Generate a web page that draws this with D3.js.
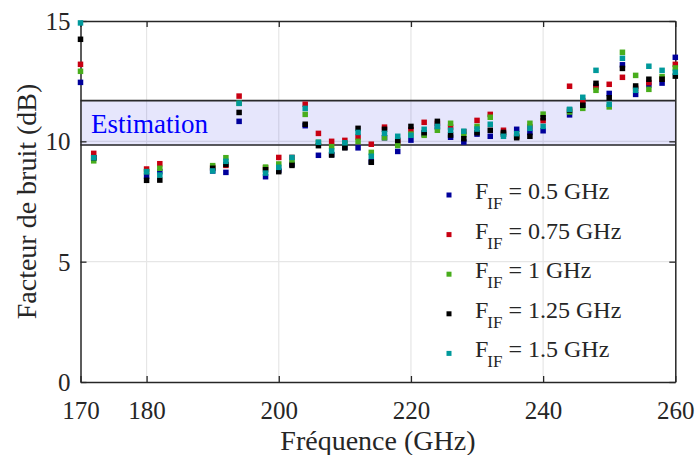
<!DOCTYPE html>
<html><head><meta charset="utf-8">
<script src="https://cdn.jsdelivr.net/npm/d3@7"></script>
<style>body{margin:0;background:#fff;} svg{display:block;}</style>
</head><body><svg id="c" width="697" height="455"></svg>
<script>
const freqs = [170,172,180,182,190,192,194,198,200,202,204,206,208,210,212,214,216,218,220,222,224,226,228,230,232,234,236,238,240,244,246,248,250,252,254,256,258,260];
const nf_05  = [12.45,9.30,8.55,8.74,8.77,8.71,10.83,8.53,8.80,9.05,10.65,9.42,9.45,9.75,9.73,9.15,10.15,9.58,10.05,10.30,10.60,10.17,9.97,10.30,10.21,10.30,10.50,10.37,10.44,11.10,11.50,12.29,11.99,13.18,11.95,12.34,12.42,13.49];
const nf_075 = [13.20,9.50,8.85,9.07,8.92,9.00,11.88,8.90,9.33,9.33,11.54,10.33,10.00,10.04,10.18,9.88,10.59,9.97,10.48,10.79,10.75,10.59,10.40,10.87,11.12,10.46,10.20,10.60,10.86,12.29,11.69,12.25,12.37,12.66,12.20,12.44,12.60,13.20];
const nf_1   = [12.91,9.19,8.74,8.88,8.99,9.32,11.58,8.93,9.06,9.18,11.12,9.96,9.78,9.90,10.00,9.54,10.15,9.83,10.30,10.25,10.46,10.75,10.28,10.62,11.00,10.30,10.22,10.75,11.13,11.22,11.37,12.12,11.43,13.70,12.74,12.16,12.69,13.05];
const nf_125 = [14.24,9.32,8.38,8.39,8.88,9.04,11.20,8.82,8.74,9.00,10.71,9.82,9.43,9.73,10.54,9.13,10.50,10.04,10.62,10.36,10.83,10.26,10.11,10.36,10.46,10.37,10.15,10.21,10.98,11.30,11.50,12.41,11.81,13.03,12.30,12.58,12.58,12.71];
const nf_15  = [14.92,9.32,8.74,8.60,8.77,9.17,11.58,8.68,8.92,9.33,11.37,9.96,9.60,9.94,10.37,9.38,10.33,10.21,10.25,10.50,10.62,10.46,10.42,10.51,10.71,10.21,10.32,10.54,10.62,11.33,11.83,12.95,11.54,13.45,12.12,13.12,12.95,12.87];
const seriesLabels = ["= 0.5 GHz","= 0.75 GHz","= 1 GHz","= 1.25 GHz","= 1.5 GHz"];
const seriesColors = ["#00009b","#c80012","#48ad1c","#000000","#00999b"];
const xTicks = [170,180,200,220,240,260];
const yTicks = [0,5,10,15];
const xGrid = [180,200,220,240];
const yGrid = [5,10];
const band = [9.85, 11.69];

const series = [nf_05,nf_075,nf_1,nf_125,nf_15];
const svg = d3.select("#c");
const L=80.5, R=675.3, T=21, B=382;
const x = d3.scaleLinear().domain([170,260]).range([L,R]);
const y = d3.scaleLinear().domain([0,15]).range([B,T]);
const font = "'Liberation Serif','Times New Roman',serif";
const axisCol = "#262626";

// grid
svg.append("g").selectAll("line").data(xGrid).join("line")
  .attr("x1",d=>x(d)).attr("x2",d=>x(d)).attr("y1",T).attr("y2",B)
  .attr("stroke","#e6e6e6").attr("stroke-width",1.2);
svg.append("g").selectAll("line").data(yGrid).join("line")
  .attr("y1",d=>y(d)).attr("y2",d=>y(d)).attr("x1",L).attr("x2",R)
  .attr("stroke","#e6e6e6").attr("stroke-width",1.2);

// band
svg.append("rect").attr("x",L).attr("width",R-L)
  .attr("y",y(band[1])).attr("height",y(band[0])-y(band[1]))
  .attr("fill","#1a1ae6").attr("fill-opacity",0.11)
  .attr("stroke","#c8c8e0").attr("stroke-width",1);
svg.append("g").selectAll("line").data(band).join("line")
  .attr("x1",L).attr("x2",R).attr("y1",d=>y(d)).attr("y2",d=>y(d))
  .attr("stroke","#2a2a2a").attr("stroke-width",1.6);
svg.append("text").attr("x",91).attr("y",133).text("Estimation")
  .attr("font-family",font).attr("font-size",27).attr("fill","#0000ff");

// axes (box with inward ticks)
const tickLen = 6;
const gx = svg.append("g").attr("transform",`translate(0,${B})`)
  .call(d3.axisBottom(x).tickValues(xTicks).tickSizeInner(-tickLen).tickSizeOuter(0).tickPadding(19));
const gxt = svg.append("g").attr("transform",`translate(0,${T})`)
  .call(d3.axisTop(x).tickValues(xTicks).tickSizeInner(-tickLen).tickSizeOuter(0).tickFormat(""));
const gy = svg.append("g").attr("transform",`translate(${L},0)`)
  .call(d3.axisLeft(y).tickValues(yTicks).tickSizeInner(-tickLen).tickSizeOuter(0).tickPadding(10));
const gyr = svg.append("g").attr("transform",`translate(${R},0)`)
  .call(d3.axisRight(y).tickValues(yTicks).tickSizeInner(-tickLen).tickSizeOuter(0).tickFormat(""));
[gx,gxt,gy,gyr].forEach(g=>{
  g.select(".domain").attr("stroke",axisCol).attr("stroke-width",1.5);
  g.selectAll(".tick line").attr("stroke",axisCol).attr("stroke-width",1.3);
  g.selectAll("text").attr("font-family",font).attr("font-size",25).attr("fill","#262626");
});
gx.selectAll(".tick text").attr("dy","0.71em");
gy.selectAll(".tick text").attr("dy","0.34em");

// points
const sz = 5.5;
series.forEach((s,i)=>{
  svg.append("g").selectAll("rect").data(freqs.map((f,j)=>({f,v:s[j]})).filter(d=>d.v!=null)).join("rect")
    .attr("x",d=>x(d.f)-sz/2).attr("y",d=>y(d.v)-sz/2)
    .attr("width",sz).attr("height",sz).attr("fill",seriesColors[i]);
});

// legend
const lg = svg.append("g");
seriesLabels.forEach((lab,i)=>{
  const cy = 195 + i*39.6;
  lg.append("rect").attr("x",449-2.5).attr("y",cy-2.5).attr("width",5).attr("height",5).attr("fill",seriesColors[i]);
  const t = lg.append("text").attr("x",475).attr("y",cy+4).attr("font-family",font).attr("font-size",24).attr("fill","#262626");
  t.append("tspan").text("F");
  t.append("tspan").text("IF").attr("font-size",17).attr("dy",10).attr("dx",-1);
  t.append("tspan").text("\u00a0"+lab).attr("dy",-10);
});

// axis titles
svg.append("text").attr("x",(L+R)/2).attr("y",450).attr("text-anchor","middle")
  .attr("font-family",font).attr("font-size",28).attr("fill","#262626").text("Fréquence (GHz)");
svg.append("text").attr("transform",`translate(36,${(T+B)/2}) rotate(-90)`).attr("text-anchor","middle")
  .attr("font-family",font).attr("font-size",28).attr("fill","#262626").text("Facteur de bruit (dB)");
</script></body></html>
